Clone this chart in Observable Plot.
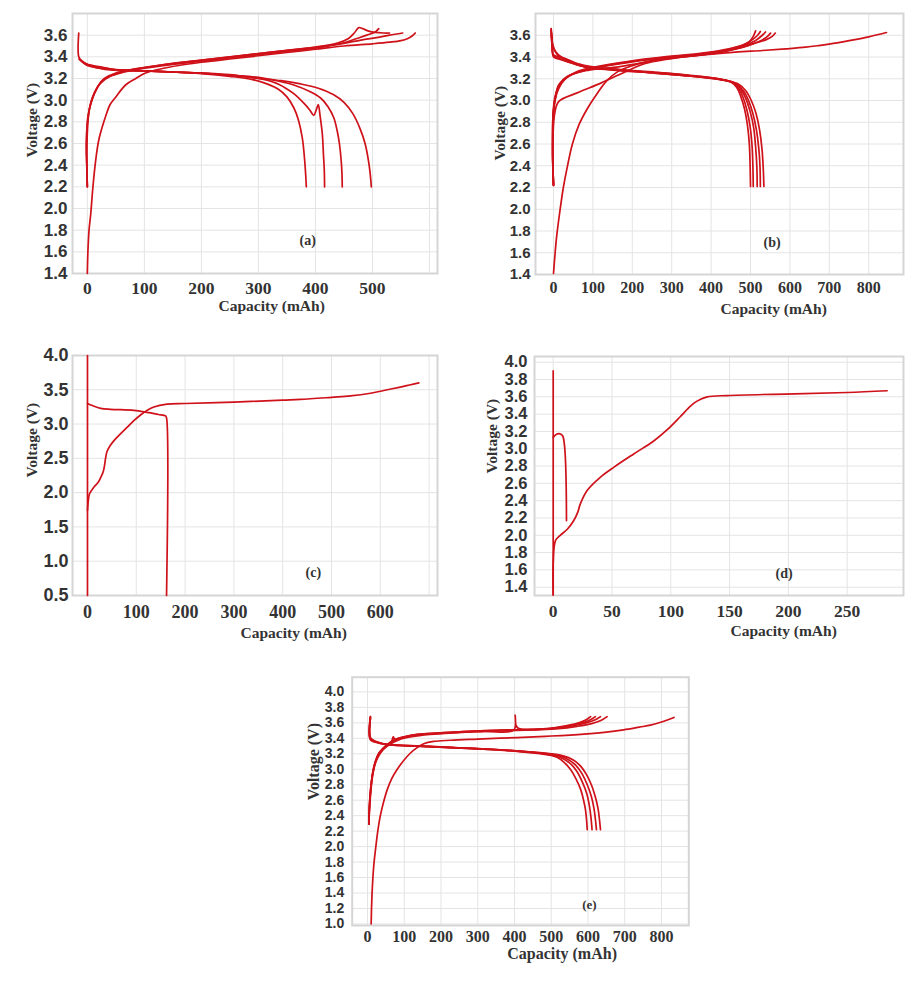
<!DOCTYPE html>
<html>
<head>
<meta charset="utf-8">
<script src="https://cdn.jsdelivr.net/npm/d3@7"></script>
<script src="https://cdn.jsdelivr.net/npm/@observablehq/plot@0.6"></script>
<style>
  body { margin: 0; background: #fff; }
  #page { position: relative; width: 915px; height: 982px; background: #fff; }
</style>
</head>
<body>
<div id="page"></div>
<script>
// ---------- Panel (a): charge / discharge cycles, capacity (mAh) vs voltage (V) ----------
const aCharge1 = [[0,1.4],[1,1.6],[3,1.8],[6,1.95],[9,2.15],[12,2.32],[16,2.5],[20,2.63],[26,2.75],[32,2.85],[40,2.96],[50,3.03],[67,3.14],[85,3.20],[102,3.25],[130,3.29],[160,3.32],[200,3.35],[250,3.38],[300,3.41],[350,3.44],[400,3.47],[450,3.50],[500,3.52],[530,3.535],[550,3.55],[562,3.57],[570,3.595],[575,3.62]];
const aCharge2 = [[0,2.2],[-1,2.4],[-2,2.57],[0,2.78],[6,2.97],[15,3.09],[26,3.18],[44,3.23],[67,3.27],[100,3.30],[150,3.34],[200,3.37],[250,3.40],[300,3.43],[350,3.46],[400,3.49],[440,3.53],[458,3.57],[468,3.62],[476,3.67],[483,3.66],[492,3.64],[505,3.625],[520,3.62],[530,3.62]];
const aCharge3 = [[0,2.2],[-1,2.45],[-1,2.65],[1,2.85],[8,3.0],[18,3.12],[30,3.2],[50,3.25],[75,3.28],[110,3.31],[160,3.345],[210,3.375],[260,3.405],[310,3.435],[360,3.465],[410,3.495],[450,3.53],[470,3.565],[490,3.60],[505,3.63],[511,3.66]];
const aCharge4 = [[0,2.2],[-1,2.5],[0,2.7],[3,2.9],[10,3.04],[22,3.15],[40,3.22],[65,3.26],[100,3.295],[150,3.33],[200,3.36],[250,3.39],[300,3.42],[350,3.45],[400,3.48],[450,3.525],[480,3.555],[510,3.58],[530,3.60],[553,3.62]];
const aDischarge1 = [[-14,3.38],[0,3.33],[25,3.30],[50,3.28],[100,3.27],[150,3.26],[200,3.245],[250,3.22],[290,3.19],[315,3.15],[335,3.10],[350,3.03],[362,2.93],[370,2.82],[377,2.65],[381,2.45],[383,2.3],[384,2.2]];
const aDischarge2 = [[-14,3.38],[-5,3.34],[20,3.31],[50,3.28],[100,3.27],[150,3.26],[200,3.25],[250,3.23],[300,3.20],[330,3.16],[345,3.12],[362,3.06],[380,2.97],[390,2.91],[397,2.86],[402,2.92],[405,2.96],[408,2.86],[412,2.69],[414,2.5],[415.5,2.35],[416,2.2]];
const aDischarge3 = [[-14,3.38],[0,3.32],[30,3.29],[60,3.28],[100,3.27],[150,3.26],[200,3.25],[250,3.23],[300,3.21],[340,3.17],[362,3.14],[390,3.08],[409,3.02],[422,2.94],[432,2.84],[438,2.72],[442,2.6],[445,2.45],[446.5,2.32],[447,2.2]];
const aDischarge4 = [[-15,3.62],[-15,3.40],[-10,3.36],[10,3.31],[40,3.28],[100,3.27],[150,3.26],[200,3.25],[250,3.235],[300,3.20],[340,3.18],[374,3.15],[405,3.11],[432,3.05],[450,2.98],[465,2.88],[478,2.74],[487,2.6],[493,2.44],[496,2.32],[498,2.2]];

// ---------- Panel (b) ----------
const bCharge1 = [[0,1.41],[3,1.55],[8,1.75],[15,1.95],[25,2.2],[35,2.39],[48,2.6],[65,2.78],[85,2.92],[110,3.06],[135,3.18],[165,3.27],[200,3.32],[240,3.36],[300,3.39],[380,3.42],[462,3.445],[530,3.46],[589,3.475],[640,3.49],[673,3.505],[720,3.53],[758,3.555],[800,3.585],[845,3.625]];
const bCharge2 = [[0,2.22],[-2,2.45],[-1,2.7],[3,2.88],[13,2.99],[60,3.07],[120,3.16],[180,3.26],[233,3.34],[290,3.38],[350,3.41],[420,3.44],[470,3.48],[505,3.52],[540,3.56],[555,3.59],[563,3.62]];
const bCharge3 = [[0,2.22],[-2,2.45],[-2,2.65],[-1,2.88],[5,3.03],[13,3.14],[40,3.23],[90,3.28],[165,3.31],[233,3.35],[293,3.39],[377,3.42],[445,3.46],[490,3.5],[520,3.54],[540,3.58],[551,3.62]];
const bCharge4 = [[0,2.22],[-2,2.5],[-1,2.8],[3,2.98],[12,3.1],[30,3.2],[56,3.25],[124,3.31],[208,3.36],[293,3.395],[377,3.425],[445,3.465],[487,3.51],[512,3.55],[530,3.6],[538,3.63]];
const bCharge5 = [[0,2.22],[-2,2.5],[-1,2.85],[4,3.02],[15,3.15],[35,3.22],[70,3.27],[124,3.315],[208,3.365],[293,3.40],[377,3.43],[445,3.47],[487,3.52],[505,3.56],[518,3.6],[525,3.635]];
const bCharge6 = [[0,2.22],[-2,2.5],[-1,2.88],[5,3.05],[22,3.17],[56,3.26],[124,3.32],[208,3.37],[293,3.405],[377,3.435],[445,3.475],[480,3.51],[497,3.54],[507,3.59],[513,3.64]];
const bDischarge1 = [[-6,3.66],[-4,3.55],[-3,3.47],[0,3.40],[15,3.38],[40,3.35],[80,3.31],[150,3.28],[250,3.255],[350,3.225],[420,3.195],[450,3.17],[465,3.12],[475,3.04],[485,2.92],[492,2.78],[497,2.6],[499,2.4],[500,2.21]];
const bDischarge2 = [[-6,3.66],[-2,3.52],[5,3.45],[20,3.40],[40,3.37],[80,3.31],[150,3.285],[250,3.26],[350,3.23],[425,3.195],[455,3.165],[470,3.11],[481,3.03],[491,2.91],[499,2.76],[504,2.58],[506,2.4],[507,2.21]];
const bDischarge3 = [[-5,3.6],[-3,3.48],[0,3.41],[20,3.38],[50,3.34],[90,3.30],[160,3.28],[250,3.255],[350,3.225],[430,3.19],[460,3.16],[476,3.1],[488,3.02],[499,2.9],[508,2.75],[513,2.57],[516,2.4],[517,2.21]];
const bDischarge4 = [[-5,3.62],[-2,3.5],[10,3.42],[30,3.38],[60,3.33],[100,3.30],[170,3.28],[260,3.25],[360,3.22],[435,3.185],[465,3.15],[482,3.09],[495,3.0],[506,2.88],[515,2.73],[521,2.56],[524,2.4],[525,2.21]];
const bDischarge5 = [[-6,3.64],[-4,3.52],[0,3.42],[25,3.39],[60,3.34],[100,3.31],[170,3.285],[260,3.26],[360,3.225],[440,3.185],[470,3.15],[488,3.09],[502,3.0],[514,2.88],[523,2.73],[529,2.56],[532,2.4],[534,2.21]];

// ---------- Panel (c) ----------
const cVertical = [[0,0.5],[0,4.0]];
const cDischarge = [[0,3.30],[10,3.27],[27,3.23],[47,3.215],[95,3.20],[122,3.17],[145,3.14],[160,3.12],[162,3.09],[162,0.5]];
const cCharge = [[0,1.74],[2,1.9],[4,1.98],[13,2.08],[22,2.15],[27,2.22],[32,2.3],[35,2.4],[37,2.5],[40,2.6],[47,2.69],[57,2.78],[68,2.86],[82,2.96],[95,3.05],[110,3.14],[122,3.20],[136,3.25],[163,3.29],[200,3.30],[300,3.32],[400,3.35],[436,3.36],[500,3.39],[539,3.41],[580,3.45],[607,3.49],[641,3.54],[660,3.57],[679,3.60]];

// ---------- Panel (d) ----------
const dVertical = [[0,1.31],[0,3.9]];
const dDischarge = [[0,3.13],[2,3.16],[5,3.175],[8,3.15],[9.5,3.05],[10.5,2.85],[11,2.6],[11.2,2.4],[11.3,2.17]];
const dCharge = [[0,1.31],[0,1.67],[2,1.94],[6,2.0],[12,2.07],[17.5,2.17],[21,2.27],[23,2.36],[29,2.52],[40,2.67],[52,2.79],[68.5,2.94],[85.5,3.09],[97,3.22],[108,3.37],[115,3.47],[120,3.53],[125,3.57],[131,3.60],[148,3.615],[205,3.635],[250,3.65],[284,3.67]];

// ---------- Panel (e) ----------
const eCharge1 = [[10,1.0],[11,1.2],[13,1.45],[17,1.75],[22,1.97],[28,2.2],[35,2.4],[44,2.58],[54,2.74],[66,2.88],[81,3.0],[98,3.11],[117,3.21],[135,3.28],[153,3.33],[180,3.36],[226,3.375],[300,3.39],[407,3.41],[500,3.43],[589,3.455],[650,3.48],[697,3.51],[740,3.545],[770,3.57],[800,3.61],[834,3.67]];
const eCharge2 = [[4,2.29],[5,2.45],[8,2.65],[12,2.85],[17,3.0],[23,3.12],[31,3.21],[42,3.27],[54,3.32],[72,3.38],[100,3.42],[135,3.45],[200,3.47],[317,3.50],[400,3.51],[498,3.53],[543,3.565],[575,3.6],[595,3.64],[607,3.68]];
const eCharge3 = [[4,2.29],[5,2.5],[9,2.75],[14,2.95],[20,3.08],[28,3.18],[40,3.25],[55,3.31],[65,3.35],[70,3.42],[74,3.39],[85,3.40],[110,3.43],[140,3.45],[200,3.47],[317,3.495],[410,3.51],[498,3.525],[550,3.56],[585,3.6],[607,3.64],[620,3.68]];
const eCharge4 = [[4,2.29],[6,2.55],[10,2.8],[16,3.0],[24,3.13],[35,3.23],[50,3.3],[72,3.37],[100,3.415],[140,3.445],[200,3.465],[317,3.49],[398,3.505],[402,3.70],[404,3.57],[410,3.53],[425,3.515],[498,3.525],[555,3.56],[595,3.6],[620,3.64],[634,3.68]];
const eCharge5 = [[4,2.29],[6,2.6],[11,2.85],[18,3.02],[28,3.15],[42,3.25],[60,3.32],[85,3.38],[120,3.42],[170,3.45],[250,3.475],[350,3.495],[450,3.51],[520,3.525],[570,3.555],[610,3.59],[635,3.63],[652,3.68]];
const eDischarge1 = [[8,3.68],[8,3.41],[15,3.38],[30,3.35],[44,3.33],[72,3.31],[135,3.30],[226,3.28],[317,3.26],[407,3.23],[470,3.20],[500,3.18],[516,3.155],[535,3.09],[552,3.0],[567,2.88],[580,2.74],[588,2.6],[593,2.48],[596,2.35],[598,2.22]];
const eDischarge2 = [[8,3.66],[8,3.40],[20,3.36],[44,3.33],[72,3.31],[135,3.30],[226,3.28],[317,3.26],[407,3.235],[480,3.20],[515,3.17],[535,3.13],[555,3.06],[570,2.97],[585,2.83],[597,2.68],[604,2.52],[608,2.38],[611,2.22]];
const eDischarge3 = [[8,3.66],[8,3.39],[25,3.35],[50,3.32],[90,3.31],[160,3.295],[250,3.275],[340,3.255],[420,3.23],[490,3.20],[525,3.17],[548,3.12],[567,3.05],[584,2.94],[598,2.8],[609,2.65],[616,2.5],[620,2.36],[623,2.22]];
const eDischarge4 = [[8,3.68],[8,3.38],[30,3.34],[60,3.32],[100,3.31],[170,3.295],[260,3.275],[350,3.255],[430,3.23],[500,3.20],[535,3.17],[560,3.12],[580,3.04],[596,2.93],[610,2.79],[620,2.64],[627,2.5],[631,2.36],[634,2.22]];

// ---------- Tick values ----------
const ticksV_14_36 = [1.4,1.6,1.8,2.0,2.2,2.4,2.6,2.8,3.0,3.2,3.4,3.6];
const gridV_14_38 = [1.4,1.6,1.8,2.0,2.2,2.4,2.6,2.8,3.0,3.2,3.4,3.6,3.8];
const ticksV_05_40 = [0.5,1.0,1.5,2.0,2.5,3.0,3.5,4.0];
const ticksV_14_40 = [1.4,1.6,1.8,2.0,2.2,2.4,2.6,2.8,3.0,3.2,3.4,3.6,3.8,4.0];
const ticksV_10_40 = [1.0,1.2,1.4,1.6,1.8,2.0,2.2,2.4,2.6,2.8,3.0,3.2,3.4,3.6,3.8,4.0];
const ticksCapA = [0,100,200,300,400,500];
const gridCapA = [0,100,200,300,400,500,600];
const ticksCapB = [0,100,200,300,400,500,600,700,800];
const ticksCapC = [0,100,200,300,400,500,600];
const gridCapC = [0,100,200,300,400,500,600,700];
const ticksCapD = [0,50,100,150,200,250];

const SERIF = "'Liberation Serif', 'Times New Roman', serif";
const SANS = "'Liberation Sans', Arial, sans-serif";
const INK = "#333";
const LINE = "#cf1119";
const fmt1 = d3.format(".1f");
const page = document.getElementById("page");

function drawPanel(cfg) {
  const {left, top, width, height, frame, xDomain, yDomain, xTicks, yTicks, xGrid, yGrid,
         series, tag, font, pad, xTitle, yTitle, tagAt} = cfg;
  const [fl, ft, fr, fb] = frame;
  const rows = Object.entries(series).flatMap(([name, pts]) => pts.map(([x, y]) => ({name, x, y})));
  const chart = Plot.plot({
    width, height,
    marginLeft: fl, marginTop: ft, marginRight: width - fr, marginBottom: height - fb,
    x: {domain: xDomain},
    y: {domain: yDomain},
    style: {background: "transparent", overflow: "visible"},
    marks: [
      Plot.gridX(xGrid, {stroke: "#e4e4e4", strokeOpacity: 1, strokeWidth: 1}),
      Plot.gridY(yGrid, {stroke: "#e4e4e4", strokeOpacity: 1, strokeWidth: 1}),
      Plot.frame({stroke: "#d5d5d5", strokeWidth: 2}),
      Plot.line(rows, {x: "x", y: "y", z: "name", stroke: LINE, strokeWidth: 1.7, curve: "catmull-rom"}),
      Plot.axisX(xTicks, {tickSize: 0, tickPadding: pad.x, fontFamily: SERIF, fontWeight: "bold",
                          fontSize: font.x, fill: INK, label: null}),
      Plot.axisY(yTicks, {tickSize: 0, tickPadding: pad.y, tickFormat: fmt1, fontFamily: SANS, fontWeight: "bold",
                          fontSize: font.y, fill: INK, label: null}),
      Plot.text(["Capacity (mAh)"], {text: d => d, frameAnchor: "bottom-left", dx: xTitle[0], dy: xTitle[1],
                                      fontFamily: SERIF, fontWeight: "bold", fontSize: font.title, fill: INK}),
      Plot.text(["Voltage (V)"], {text: d => d, frameAnchor: "top-left", dx: yTitle[0], dy: yTitle[1], rotate: -90,
                                   fontFamily: SERIF, fontWeight: "bold", fontSize: font.title, fill: INK}),
      Plot.text([tag], {text: d => d, frameAnchor: "top-left", dx: tagAt[0], dy: tagAt[1],
                        fontFamily: SERIF, fontWeight: "bold", fontSize: font.tag, fill: INK})
    ]
  });
  chart.style.position = "absolute";
  chart.style.left = left + "px";
  chart.style.top = top + "px";
  page.append(chart);
}

drawPanel({
  left: 0, top: 0, width: 450, height: 330, frame: [72, 13, 437, 273],
  xDomain: [-26, 614], yDomain: [1.4, 3.8],
  xTicks: ticksCapA, yTicks: ticksV_14_36, xGrid: gridCapA, yGrid: gridV_14_38,
  series: {aCharge1, aCharge2, aCharge3, aCharge4, aDischarge1, aDischarge2, aDischarge3, aDischarge4},
  tag: "(a)", font: {x: 17.5, y: 17, title: 15.5, tag: 14}, pad: {x: 8, y: 5},
  xTitle: [146, 37], yTitle: [-47, 144], tagAt: [227, 222]
});

drawPanel({
  left: 460, top: 0, width: 455, height: 330, frame: [75, 13, 443, 274],
  xDomain: [-45.7, 888.3], yDomain: [1.4, 3.8],
  xTicks: ticksCapB, yTicks: ticksV_14_36, xGrid: ticksCapB, yGrid: gridV_14_38,
  series: {bCharge1, bCharge2, bCharge3, bCharge4, bCharge5, bCharge6,
           bDischarge1, bDischarge2, bDischarge3, bDischarge4, bDischarge5},
  tag: "(b)", font: {x: 16, y: 15, title: 15.5, tag: 14}, pad: {x: 7.5, y: 5},
  xTitle: [185, 39], yTitle: [-42, 147], tagAt: [228, 224]
});

drawPanel({
  left: 0, top: 330, width: 450, height: 320, frame: [72, 25, 437, 265],
  xDomain: [-30.7, 717.2], yDomain: [0.5, 4.0],
  xTicks: ticksCapC, yTicks: ticksV_05_40, xGrid: gridCapC, yGrid: ticksV_05_40,
  series: {cVertical, cDischarge, cCharge},
  tag: "(c)", font: {x: 18, y: 18, title: 15.5, tag: 14}, pad: {x: 10, y: 4},
  xTitle: [168, 42], yTitle: [-47, 122], tagAt: [233, 212]
});

drawPanel({
  left: 460, top: 330, width: 455, height: 320, frame: [74, 26, 443, 265],
  xDomain: [-15.9, 297.9], yDomain: [1.304, 4.066],
  xTicks: ticksCapD, yTicks: ticksV_14_40, xGrid: ticksCapD, yGrid: ticksV_14_40,
  series: {dVertical, dDischarge, dCharge},
  tag: "(d)", font: {x: 17.5, y: 16.5, title: 15.5, tag: 14}, pad: {x: 9, y: 7},
  xTitle: [196, 40], yTitle: [-49, 117], tagAt: [241, 212]
});

drawPanel({
  left: 290, top: 650, width: 420, height: 332, frame: [61.7, 26.7, 398.3, 275],
  xDomain: [-41.6, 874.3], yDomain: [0.98, 4.19],
  xTicks: ticksCapB, yTicks: ticksV_10_40, xGrid: ticksCapB, yGrid: ticksV_10_40,
  series: {eCharge1, eCharge2, eCharge3, eCharge4, eCharge5,
           eDischarge1, eDischarge2, eDischarge3, eDischarge4},
  tag: "(e)", font: {x: 16, y: 14, title: 16, tag: 13}, pad: {x: 5, y: 8},
  xTitle: [155, 33], yTitle: [-45, 123], tagAt: [230, 223]
});
</script>
</body>
</html>
